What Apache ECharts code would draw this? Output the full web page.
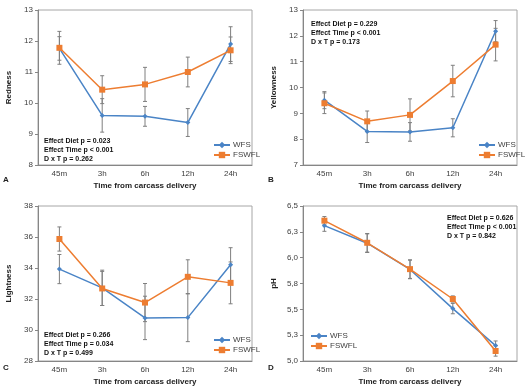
<!DOCTYPE html>
<html>
<head>
<meta charset="utf-8">
<script src="https://cdn.jsdelivr.net/npm/echarts@6/dist/echarts.min.js"></script>
<style>
  html, body { margin: 0; padding: 0; background: #fff; }
  #chart { width: 531px; height: 389px; }
</style>
</head>
<body>
<div id="chart"></div>
<script>
// categorias del eje x
const categories = ["45m", "3h", "6h", "12h", "24h"];

// A - Redness
const rednessWFS = [11.76, 9.60, 9.57, 9.37, 11.90];
const rednessWFSErr = [0.38, 0.54, 0.32, 0.45, 0.56];
const rednessFSWFL = [11.78, 10.43, 10.60, 11.00, 11.70];
const rednessFSWFLErr = [0.53, 0.45, 0.55, 0.48, 0.43];

// B - Yellowness
const yellowWFS = [9.51, 8.30, 8.28, 8.44, 12.18];
const yellowWFSErr = [0.33, 0.43, 0.36, 0.35, 0.41];
const yellowFSWFL = [9.39, 8.69, 8.94, 10.25, 11.66];
const yellowFSWFLErr = [0.40, 0.40, 0.62, 0.61, 0.63];

// C - Lightness
const lightWFS = [33.93, 32.72, 30.78, 30.80, 34.21];
const lightWFSErr = [0.94, 1.14, 1.40, 1.55, 1.10];
const lightFSWFL = [35.87, 32.68, 31.77, 33.43, 33.04];
const lightFSWFLErr = [0.78, 1.10, 1.23, 1.10, 1.35];

// D - pH
const phWFS = [6.31, 6.14, 5.886, 5.507, 5.149];
const phWFSErr = [0.055, 0.09, 0.09, 0.05, 0.045];
const phFSWFL = [6.358, 6.144, 5.889, 5.60, 5.097];
const phFSWFLErr = [0.04, 0.09, 0.09, 0.03, 0.05];

// textos de estadistica
const statsA = ["Effect Diet p = 0.023", "Effect Time p < 0.001", "D x T p = 0.262"];
const statsB = ["Effect Diet p = 0.229", "Effect Time p < 0.001", "D x T p = 0.173"];
const statsC = ["Effect Diet p = 0.266", "Effect Time p = 0.034", "D x T p = 0.499"];
const statsD = ["Effect Diet p = 0.626", "Effect Time p < 0.001", "D x T p = 0.842"];

const BLUE = "#4a84c6";
const ORANGE = "#ed7d31";
const FONT = "Liberation Sans";

const chart = echarts.init(document.getElementById("chart"));

// barras de error con custom series
const errRender = (params, api) => {
    const x = api.value(0);
    const top = api.coord([x, api.value(2)]);
    const bot = api.coord([x, api.value(1)]);
    const w = 2;
    const st = { stroke: "#7f7f7f", lineWidth: 1 };
    return {
        type: "group",
        children: [
            { type: "line", shape: { x1: top[0], y1: top[1], x2: bot[0], y2: bot[1] }, style: st },
            { type: "line", shape: { x1: top[0] - w, y1: top[1], x2: top[0] + w, y2: top[1] }, style: st },
            { type: "line", shape: { x1: bot[0] - w, y1: bot[1], x2: bot[0] + w, y2: bot[1] }, style: st }
        ]
    };
};

const errData = (vals, errs) => vals.map((v, i) => [i, v - errs[i], v + errs[i]]);

const grids = [
    { left: 38, top: 10, width: 214, height: 155 },
    { left: 303, top: 10, width: 214, height: 155 },
    { left: 38, top: 206, width: 214, height: 155 },
    { left: 303, top: 206, width: 214, height: 155 }
].map(g => Object.assign(g, { show: true, borderColor: "#a6a6a6", borderWidth: 1, backgroundColor: "#fff" }));

const xAxes = grids.map((g, i) => ({
    type: "category",
    gridIndex: i,
    data: categories,
    name: "Time from carcass delivery",
    nameLocation: "middle",
    nameGap: 17,
    nameTextStyle: { fontFamily: FONT, fontSize: 8, fontWeight: "bold", color: "#222" },
    axisLine: { lineStyle: { color: "#868686" } },
    axisTick: { length: 3, lineStyle: { color: "#868686" } },
    axisLabel: { fontFamily: FONT, fontSize: 8, color: "#404040", margin: 5 }
}));

const yCfg = [
    { name: "Redness", min: 8, max: 13, interval: 1 },
    { name: "Yellowness", min: 7, max: 13, interval: 1 },
    { name: "Lightness", min: 28, max: 38, interval: 2 },
    { name: "pH", min: 5, max: 6.5, interval: 0.25 }
];

const yAxes = yCfg.map((c, i) => ({
    type: "value",
    gridIndex: i,
    min: c.min,
    max: c.max,
    interval: c.interval,
    name: c.name,
    nameLocation: "middle",
    nameGap: 25,
    nameRotate: 90,
    nameTextStyle: { fontFamily: FONT, fontSize: 8, fontWeight: "bold", color: "#222" },
    axisLine: { show: true, lineStyle: { color: "#868686" } },
    axisTick: { show: true, length: 3, lineStyle: { color: "#868686" } },
    splitLine: { show: false },
    axisLabel: {
        fontFamily: FONT, fontSize: 8, color: "#404040", margin: 5,
        formatter: i === 3 ? (v) => v.toFixed(1).replace(".", ",") : "{value}"
    }
}));

const panels = [
    [rednessWFS, rednessWFSErr, rednessFSWFL, rednessFSWFLErr],
    [yellowWFS, yellowWFSErr, yellowFSWFL, yellowFSWFLErr],
    [lightWFS, lightWFSErr, lightFSWFL, lightFSWFLErr],
    [phWFS, phWFSErr, phFSWFL, phFSWFLErr]
];

const series = [];
panels.forEach((p, i) => {
    series.push({
        type: "custom", xAxisIndex: i, yAxisIndex: i, renderItem: errRender,
        encode: { x: 0, y: [1, 2] }, data: errData(p[0], p[1]), z: 3, silent: true
    });
    series.push({
        type: "custom", xAxisIndex: i, yAxisIndex: i, renderItem: errRender,
        encode: { x: 0, y: [1, 2] }, data: errData(p[2], p[3]), z: 3, silent: true
    });
    series.push({
        name: "WFS", type: "line", xAxisIndex: i, yAxisIndex: i, data: p[0],
        symbol: "diamond", symbolSize: 5, z: 4,
        lineStyle: { color: BLUE, width: 1.5 }, itemStyle: { color: BLUE }
    });
    series.push({
        name: "FSWFL", type: "line", xAxisIndex: i, yAxisIndex: i, data: p[2],
        symbol: "rect", symbolSize: 6, z: 5,
        lineStyle: { color: ORANGE, width: 1.5 }, itemStyle: { color: ORANGE }
    });
});

// leyendas por panel
const legendPos = [[213, 141], [478, 141], [213, 336], [310, 332]];
const legends = legendPos.map(([x, y]) => ({
    left: x, top: y, orient: "vertical", itemGap: 2,
    itemWidth: 16, itemHeight: 8,
    data: ["WFS", "FSWFL"],
    textStyle: { fontFamily: FONT, fontSize: 8, color: "#404040", padding: [0, 0, 0, -2] },
    padding: 0
}));

// textos de estadistica y letras de panel
const statText = (lines, x, y) => ({
    type: "text", left: x, top: y, z: 10,
    style: { text: lines.join("\n"), font: "bold 7px " + FONT, fill: "#111", lineHeight: 9.4 }
});
const letter = (t, x, y) => ({
    type: "text", left: x, top: y,
    style: { text: t, font: "bold 8px " + FONT, fill: "#222" }
});

const option = {
    animation: false,
    grid: grids,
    xAxis: xAxes,
    yAxis: yAxes,
    legend: legends,
    series: series,
    graphic: [
        statText(statsA, 44, 136),
        statText(statsB, 311, 19),
        statText(statsC, 44, 330),
        statText(statsD, 447, 213),
        letter("A", 3, 176),
        letter("B", 268, 176),
        letter("C", 3, 364),
        letter("D", 268, 364)
    ]
};

chart.setOption(option);

window.addEventListener("resize", () => chart.resize());
</script>
</body>
</html>
